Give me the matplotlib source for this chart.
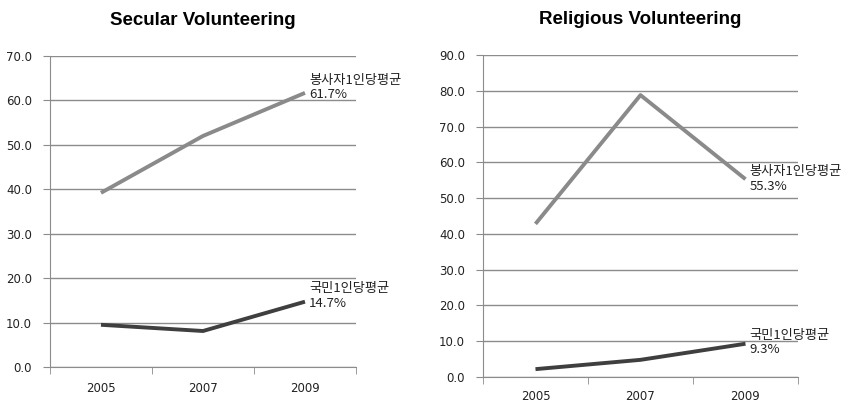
import matplotlib.pyplot as plt
from matplotlib.ticker import FixedLocator

plt.rcParams['font.family'] = ['Noto Sans CJK KR', 'DejaVu Sans']

years = ['2005', '2007', '2009']

secular_volunteer = [39.2, 52.0, 61.7]
secular_citizen = [9.5, 8.1, 14.7]
religious_volunteer = [42.8, 78.8, 55.3]
religious_citizen = [2.2, 4.8, 9.3]

label_volunteer = '봉사자1인당평균'
label_citizen = '국민1인당평균'

c_upper = '#8a8a8a'
c_lower = '#3f3f3f'
c_grid = '#8c8c8c'

fig = plt.figure(figsize=(8.5, 4.04), dpi=100)
ax1 = fig.add_axes([0.0588, 0.0916, 0.36, 0.7698])
ax2 = fig.add_axes([0.5682, 0.0668, 0.3706, 0.797])


def draw(ax, upper, lower, ymax, title, offs, xpad):
    x = range(len(years))
    ax.plot(x, upper, color=c_upper, lw=2.8, solid_capstyle='butt', zorder=3)
    ax.plot(x, lower, color=c_lower, lw=2.8, solid_capstyle='butt', zorder=3)
    ax.set_xlim(-0.5, len(years) - 0.5)
    ax.set_ylim(0, ymax)
    ax.set_yticks(range(0, ymax + 1, 10))
    ax.set_yticklabels(['%.1f' % v for v in range(0, ymax + 1, 10)], family='DejaVu Sans')
    ax.set_xticks(list(x))
    ax.set_xticklabels(years, family='DejaVu Sans')
    ax.xaxis.set_minor_locator(FixedLocator([i - 0.5 for i in range(len(years) + 1)]))
    ax.tick_params(axis='x', which='major', length=0, pad=xpad, labelsize=8.5, colors='#222222')
    ax.tick_params(axis='x', which='minor', length=5, color=c_grid, direction='out')
    ax.tick_params(axis='y', length=5, color=c_grid, pad=8, labelsize=8.5, labelcolor='#222222')
    ax.grid(axis='y', color=c_grid, lw=1)
    ax.set_axisbelow(True)
    for s in ['top', 'right']:
        ax.spines[s].set_visible(False)
    for s in ['left', 'bottom']:
        ax.spines[s].set_color(c_grid)
    ax.set_title(title, fontsize=13.5, fontweight='bold', family='Liberation Sans', pad=22)
    for vals, lab, dy in [(upper, label_volunteer, offs[0]), (lower, label_citizen, offs[1])]:
        ax.annotate('%s\n%.1f%%' % (lab, vals[-1]), xy=(len(years) - 1, vals[-1]),
                    xytext=(3, dy), textcoords='offset points', va='center', ha='left',
                    fontsize=9.5, linespacing=1.15, color='#222222', annotation_clip=False)


draw(ax1, secular_volunteer, secular_citizen, 70, 'Secular Volunteering', (4, 4), 11)
draw(ax2, religious_volunteer, religious_citizen, 90, 'Religious Volunteering', (0, 1), 9)

fig.savefig('out.png', dpi=100, facecolor='white')
